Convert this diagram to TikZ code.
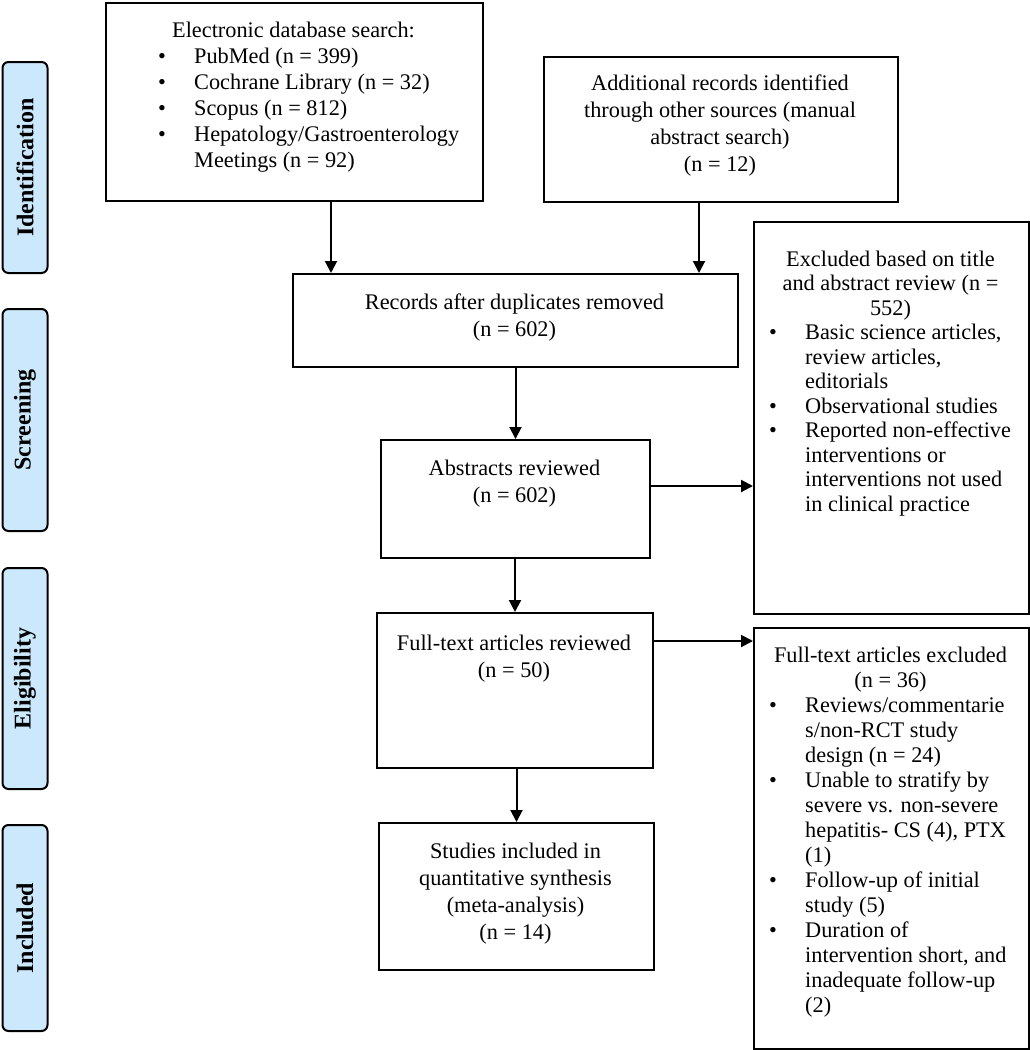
\documentclass[tikz,border=0pt]{standalone}
\usepackage{fontspec}
\setmainfont{Liberation Serif}
\usetikzlibrary{arrows.meta}
\definecolor{phasefill}{RGB}{204,232,252}
\newcommand{\bul}{\makebox[36pt][l]{\textbullet}}
\tikzset{
  box/.style={draw=black, line width=2pt, rectangle, inner sep=0pt, anchor=north west},
  phase/.style={draw=black, line width=2pt, fill=phasefill, rounded corners=6pt, inner sep=0pt,
    rotate=90, font=\fontsize{24}{28}\selectfont\bfseries},
  arr/.style={line width=2pt, -{Triangle[length=12pt,width=12pt]}},
  txt/.style={inner sep=0pt, anchor=north},
  ltxt/.style={inner sep=0pt, anchor=north west},
}
\begin{document}
\begin{tikzpicture}[x=1pt,y=-1pt]
\useasboundingbox (0,0) rectangle (1030,1050);

% phase bars
\node[phase, minimum width=211pt, minimum height=45pt] (pid) at (25,167.5) {Identification};
\node[phase, minimum width=222pt, minimum height=45pt] (psc) at (25,420) {Screening};
\node[phase, minimum width=221pt, minimum height=45pt] (pel) at (25,678.5) {Eligibility};
\node[phase, minimum width=206pt, minimum height=45pt] (pin) at (25,928) {Included};

% boxes
\node[box, minimum width=377pt, minimum height=198pt] (elec) at (105,2) {};
\node[box, minimum width=354pt, minimum height=145pt] (addl) at (543,56) {};
\node[box, minimum width=445pt, minimum height=93pt] (rec) at (292,273) {};
\node[box, minimum width=269pt, minimum height=118pt] (abs) at (380,439) {};
\node[box, minimum width=276pt, minimum height=155pt] (ft) at (376,612) {};
\node[box, minimum width=275pt, minimum height=147pt] (stud) at (378,822) {};
\node[box, minimum width=275pt, minimum height=392pt] (ex1) at (753,221) {};
\node[box, minimum width=275pt, minimum height=421pt] (ex2) at (753,627) {};

% texts
\node[txt, font=\fontsize{22.3}{26}\selectfont] (elechead) at (293.5,18.8)
  {\begin{tabular}{@{}c@{}}Electronic database search:\end{tabular}};
\node[ltxt, font=\fontsize{22.3}{26}\selectfont] (eleclist) at (158,44.8)
  {\begin{tabular}{@{}l@{}l@{}}
  \bul & PubMed (n = 399)\\
  \bul & Cochrane Library (n = 32)\\
  \bul & Scopus (n = 812)\\
  \bul & Hepatology/Gastroenterology\\
       & Meetings (n = 92)
  \end{tabular}};
\node[txt, font=\fontsize{22.3}{27}\selectfont] (addltxt) at (720,71.1)
  {\begin{tabular}{@{}c@{}}Additional records identified\\ through other sources (manual\\ abstract search)\\ (n = 12)\end{tabular}};
\node[txt, font=\fontsize{22.3}{27}\selectfont] (rectxt) at (514.5,290.1)
  {\begin{tabular}{@{}c@{}}Records after duplicates removed\\ (n = 602)\end{tabular}};
\node[txt, font=\fontsize{22.3}{27}\selectfont] (abstxt) at (514.5,456.1)
  {\begin{tabular}{@{}c@{}}Abstracts reviewed\\ (n = 602)\end{tabular}};
\node[txt, font=\fontsize{22.3}{27}\selectfont] (fttxt) at (514,631.1)
  {\begin{tabular}{@{}c@{}}Full-text articles reviewed\\ (n = 50)\end{tabular}};
\node[txt, font=\fontsize{22.3}{27}\selectfont] (studtxt) at (515.5,839.1)
  {\begin{tabular}{@{}c@{}}Studies included in\\ quantitative synthesis\\ (meta-analysis)\\ (n = 14)\end{tabular}};
\node[txt, font=\fontsize{22.3}{24.5}\selectfont] (ex1head) at (890.5,248.85)
  {\begin{tabular}{@{}c@{}}Excluded based on title\\ and abstract review (n =\\ 552)\end{tabular}};
\node[ltxt, font=\fontsize{22.3}{24.5}\selectfont] (ex1list) at (769,322.35)
  {\begin{tabular}{@{}l@{}l@{}}
  \bul & Basic science articles,\\
       & review articles,\\
       & editorials\\
  \bul & Observational studies\\
  \bul & Reported non-effective\\
       & interventions or\\
       & interventions not used\\
       & in clinical practice
  \end{tabular}};
\node[txt, font=\fontsize{22.3}{25}\selectfont] (ex2head) at (890.5,644.5)
  {\begin{tabular}{@{}c@{}}Full-text articles excluded\\ (n = 36)\end{tabular}};
\node[ltxt, font=\fontsize{22.3}{25}\selectfont] (ex2list) at (769,694.5)
  {\begin{tabular}{@{}l@{}l@{}}
  \bul & Reviews/commentarie\\
       & s/non-RCT study\\
       & design (n = 24)\\
  \bul & Unable to stratify by\\
       & severe vs. non-severe\\
       & hepatitis- CS (4), PTX\\
       & (1)\\
  \bul & Follow-up of initial\\
       & study (5)\\
  \bul & Duration of\\
       & intervention short, and\\
       & inadequate follow-up\\
       & (2)
  \end{tabular}};

% connectors
\coordinate (xa) at (331,0);
\coordinate (xb) at (699,0);
\coordinate (ya) at (0,486);
\coordinate (yb) at (0,641);
\draw[arr] (elec.south -| xa) -- (rec.north -| xa);
\draw[arr] (addl.south -| xb) -- (rec.north -| xb);
\draw[arr] (rec.south -| abs.north) -- (abs.north);
\draw[arr] (abs.east |- ya) -- (ex1.west |- ya);
\draw[arr] (abs.south -| ft.north) -- (ft.north);
\draw[arr] (ft.east |- yb) -- (ex2.west |- yb);
\draw[arr] (ft.south -| stud.north) -- (stud.north);
\end{tikzpicture}
\end{document}
